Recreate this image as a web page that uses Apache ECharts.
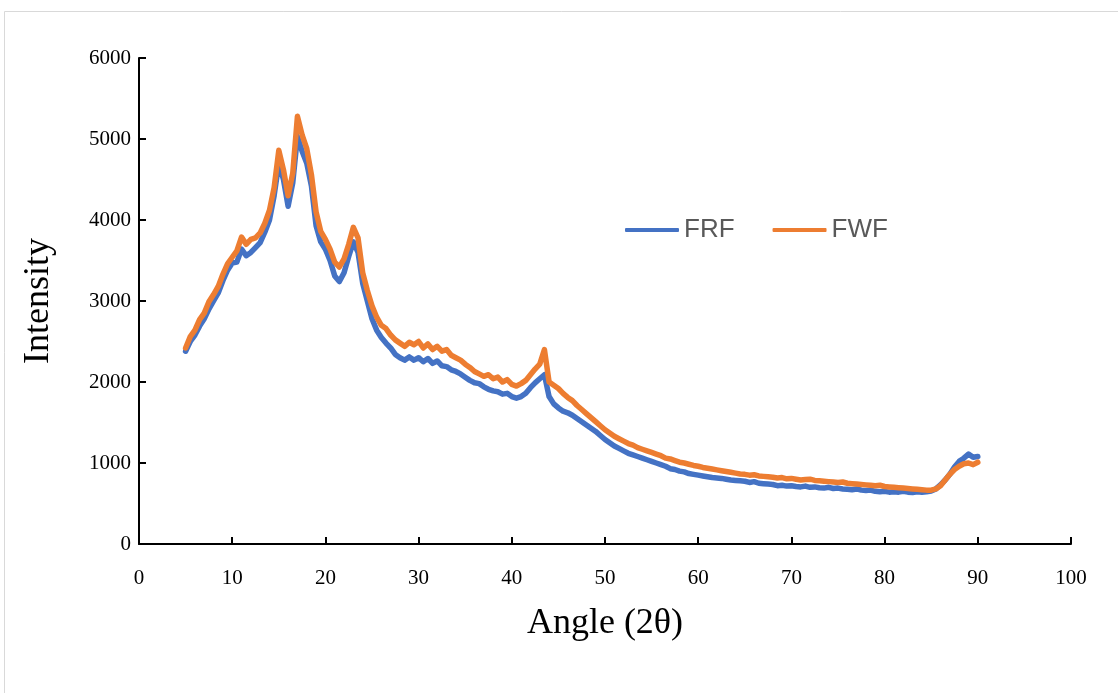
<!DOCTYPE html>
<html>
<head>
<meta charset="utf-8">
<script src="https://cdn.jsdelivr.net/npm/echarts@6/dist/echarts.min.js"></script>
<style>
  html, body { margin: 0; padding: 0; background: #fff; }
  #chart { width: 1118px; height: 693px; }
</style>
</head>
<body>
<div id="chart"></div>
<script>
// sampling grid of the scan (degrees 2θ)
const angleStart = 5;
const angleStep = 0.5;

// intensities, one value every 0.5° from 5° to 90°
const frf = [
  2380, 2500, 2580, 2690, 2780, 2900, 3000, 3100, 3250, 3380,
  3470, 3480, 3640, 3560, 3600, 3660, 3720, 3850, 4000, 4300,
  4700, 4500, 4170, 4460, 5030, 4850, 4700, 4420, 3930, 3730,
  3640, 3500, 3310, 3240, 3350, 3550, 3730, 3600, 3220, 3000,
  2780, 2640, 2550, 2480, 2420, 2340, 2300, 2270, 2310, 2270,
  2300, 2250, 2290, 2230, 2260, 2200, 2190, 2150, 2130, 2100,
  2060, 2020, 1990, 1980, 1940, 1910, 1890, 1880, 1850, 1860,
  1820, 1800, 1820, 1860, 1930, 1990, 2040, 2090, 1820, 1730,
  1680, 1640, 1620, 1590, 1550, 1510, 1470, 1430, 1390, 1340,
  1290, 1250, 1210, 1180, 1150, 1120, 1100, 1080, 1060, 1040,
  1020, 1000, 980, 960, 930, 920, 900, 890, 870, 860,
  850, 840, 830, 820, 815, 810, 800, 790, 785, 780,
  775, 760, 770, 750, 745, 740, 735, 720, 725, 715,
  720, 710, 705, 715, 700, 705, 695, 690, 700, 685,
  690, 680, 675, 670, 680, 665, 660, 665, 650, 645,
  650, 640, 645, 640, 650, 640, 635, 645, 640, 645,
  655, 680, 730, 790, 860, 950, 1020, 1060, 1110, 1070,
  1080
];

const fwf = [
  2420, 2560, 2640, 2770, 2850, 2990, 3080, 3180, 3330, 3460,
  3540, 3620, 3790, 3700, 3760, 3780, 3840, 3960, 4120, 4400,
  4860, 4620, 4300, 4580, 5280, 5050, 4880, 4560, 4100, 3860,
  3760, 3640, 3480, 3420, 3520, 3700, 3910, 3780, 3350, 3130,
  2940, 2800, 2700, 2660, 2580, 2520, 2480, 2440, 2490, 2460,
  2500, 2420, 2470, 2400, 2440, 2380, 2400, 2330, 2300, 2270,
  2220, 2180, 2130, 2100, 2070, 2090, 2040, 2060, 2000, 2030,
  1970, 1950, 1980, 2020, 2090, 2160, 2220, 2400, 2000, 1960,
  1920, 1860, 1810, 1770, 1710, 1660, 1610, 1560, 1510, 1460,
  1410, 1370, 1330, 1300, 1270, 1240, 1220, 1190, 1170, 1150,
  1130, 1110, 1090, 1060, 1050, 1030, 1010, 1000, 985, 970,
  960, 945, 935, 925, 915, 905, 895, 885, 875, 865,
  860, 850, 855, 840, 835, 830, 825, 815, 820, 805,
  810, 800, 790, 795, 800, 785, 780, 775, 770, 765,
  760, 765, 750, 745, 740, 735, 730, 725, 720, 725,
  710, 705, 700, 695, 690, 685, 680, 675, 670, 665,
  665, 680, 720, 790, 860, 920, 960, 990, 1000, 980,
  1010
];

const seriesNames = ['FRF', 'FWF'];
const seriesColors = ['#4472C4', '#ED7D31'];

function toPairs(values) {
  return values.map((v, i) => [angleStart + i * angleStep, v]);
}

const chart = echarts.init(document.getElementById('chart'));

const axisText = {
  color: '#000',
  fontFamily: '"Liberation Serif", "Times New Roman", serif',
  fontSize: 21,
  formatter: function (v) { return String(v); }
};

const option = {
  backgroundColor: '#ffffff',
  animation: false,
  graphic: [{
    type: 'rect',
    shape: { x: 4.5, y: 11.5, width: 1200, height: 800 },
    style: { fill: 'none', stroke: '#d9d9d9', lineWidth: 1 },
    silent: true
  }],
  legend: {
    data: seriesNames,
    left: 620,
    top: 212,
    itemWidth: 54,
    itemHeight: 4,
    itemGap: 38,
    icon: 'roundRect',
    textStyle: {
      color: '#595959',
      fontFamily: '"Liberation Sans", Arial, sans-serif',
      fontSize: 26
    }
  },
  grid: {
    left: 139,
    right: 47,
    top: 58,
    bottom: 149,
    containLabel: false
  },
  xAxis: {
    type: 'value',
    min: 0,
    max: 100,
    interval: 10,
    name: 'Angle (2θ)',
    nameLocation: 'middle',
    nameGap: 62,
    nameTextStyle: {
      color: '#000',
      fontFamily: '"Liberation Serif", "Times New Roman", serif',
      fontSize: 36
    },
    axisLine: { lineStyle: { color: '#000', width: 2 } },
    axisTick: { inside: true, length: 7, lineStyle: { color: '#000', width: 2 } },
    axisLabel: Object.assign({ margin: 24 }, axisText),
    splitLine: { show: false }
  },
  yAxis: {
    type: 'value',
    min: 0,
    max: 6000,
    interval: 1000,
    name: 'Intensity',
    nameLocation: 'middle',
    nameGap: 82,
    nameTextStyle: {
      color: '#000',
      fontFamily: '"Liberation Serif", "Times New Roman", serif',
      fontSize: 36
    },
    axisLine: { show: true, lineStyle: { color: '#000', width: 2 } },
    axisTick: { show: true, inside: true, length: 7, lineStyle: { color: '#000', width: 2 } },
    axisLabel: Object.assign({ margin: 8 }, axisText),
    splitLine: { show: false }
  },
  series: [frf, fwf].map((vals, i) => ({
    name: seriesNames[i],
    type: 'line',
    data: toPairs(vals),
    showSymbol: false,
    symbol: 'none',
    smooth: false,
    lineStyle: { color: seriesColors[i], width: 5.5, cap: 'round', join: 'round' },
    itemStyle: { color: seriesColors[i] }
  }))
};

chart.setOption(option);
</script>
</body>
</html>
